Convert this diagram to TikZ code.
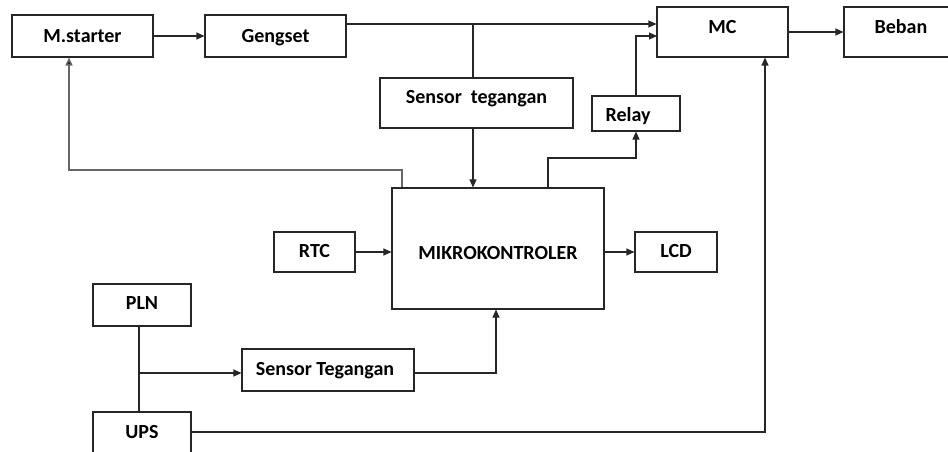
\documentclass[tikz,border=0pt]{standalone}
\usepackage{fontspec}
\setmainfont{Carlito}
\usetikzlibrary{arrows.meta}
\newcommand\boxtxt[2]{\raisebox{-#1pt}[0pt][0pt]{#2}}
\begin{document}
\begin{tikzpicture}[x=1pt,y=-1pt,
  box/.style={draw=black!85,line width=1.1pt,rectangle,inner sep=0pt,
    font=\fontsize{20}{22}\selectfont\bfseries},
  ln/.style={draw=black!85,line width=1.1pt},
  arr/.style={ln,-{Triangle[length=8pt,width=7pt]}},
  garr/.style={draw=black!60,line width=1.6pt,-{Triangle[length=8pt,width=7pt,fill=black]}}]
\useasboundingbox (0,0) rectangle (948,452);
\clip (0,0) rectangle (948,452);
\node[box,minimum width=141,minimum height=42] (mstarter) at (82.5,36) {\boxtxt{6.4}{M.starter}};
\node[box,minimum width=141,minimum height=42] (gengset) at (275.5,36) {\boxtxt{6.4}{Gengset}};
\node[box,minimum width=193,minimum height=50] (sensA) at (476.5,103) {\boxtxt{0.4}{Sensor\ \ tegangan}};
\node[box,minimum width=131,minimum height=50] (mc) at (722.5,32) {\boxtxt{1.4}{MC}};
\node[box,minimum width=114,minimum height=50] (beban) at (901,32) {\boxtxt{1.4}{Beban}};
\node[box,minimum width=88,minimum height=35] (relay) at (636,113.5) {\boxtxt{7.9}{\hspace*{-16pt}Relay}};
\node[box,minimum width=212,minimum height=121] (mikro) at (498,248.5) {\boxtxt{10.9}{MIKROKONTROLER}};
\node[box,minimum width=81,minimum height=40] (rtc) at (314.5,252) {\boxtxt{5.4}{RTC}};
\node[box,minimum width=82,minimum height=40] (lcd) at (676,252) {\boxtxt{5.4}{LCD}};
\node[box,minimum width=98,minimum height=42] (pln) at (142,305) {\boxtxt{4.4}{PLN}};
\node[box,minimum width=172,minimum height=42] (sensB) at (328,370) {\boxtxt{5.4}{\hspace*{-6pt}Sensor Tegangan}};
\node[box,minimum width=98,minimum height=46] (ups) at (142,435) {\boxtxt{3.1}{UPS}};
% connectors
\coordinate (j1) at (473,24);
\coordinate (r1) at (548,158);
\coordinate (m2) at (657,36);
\coordinate (f1) at (402,170);
\coordinate (f2) at (69,170);
\coordinate (p1) at (139,373);
\coordinate (s1) at (496,373);
\coordinate (u1) at (765,432);
\draw[arr] (mstarter.east) -- (gengset.west);
\draw[arr] (gengset.east |- j1) -- (mc.west |- j1);
\draw[ln] (j1) -- (j1 |- sensA.north);
\draw[arr] (j1 |- sensA.south) -- (j1 |- mikro.north);
\draw[arr] (r1 |- mikro.north) -- (r1) -| (relay.south);
\draw[arr] (relay.north) |- (m2);
\draw[garr] (f1 |- mikro.north) -- (f1) -- (f2) -- (f2 |- mstarter.south);
\draw[arr] (mc.east) -- (beban.west);
\draw[arr] (rtc.east) -- (mikro.west |- rtc.east);
\draw[arr] (mikro.east |- lcd.west) -- (lcd.west);
\draw[ln] (p1 |- pln.south) -- (p1 |- ups.north);
\draw[arr] (p1) -- (sensB.west |- p1);
\draw[arr] (sensB.east |- s1) -- (s1) -- (s1 |- mikro.south);
\draw[arr] (ups.east |- u1) -- (u1) -- (u1 |- mc.south);
\end{tikzpicture}
\end{document}
